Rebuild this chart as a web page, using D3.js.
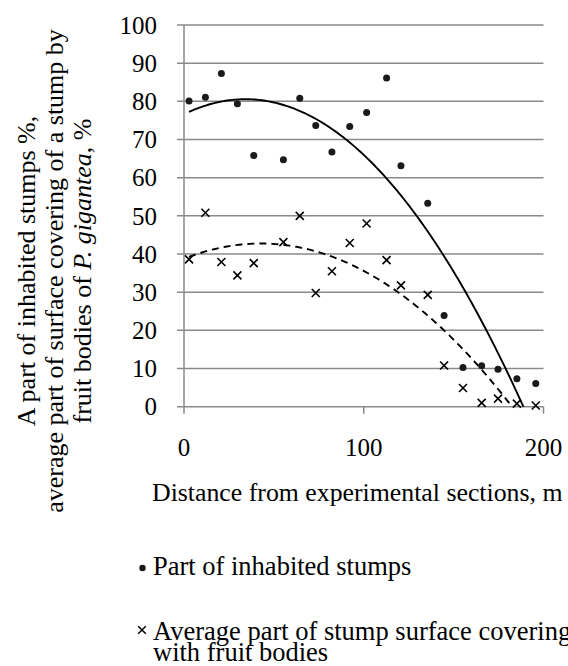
<!DOCTYPE html>
<html>
<head>
<meta charset="utf-8">
<script src="https://cdn.jsdelivr.net/npm/d3@7"></script>
<style>
  html, body { margin: 0; padding: 0; background: #fff; }
  svg { display: block; }
  svg text { font-family: "Liberation Serif", "Times New Roman", serif; fill: #000; }
</style>
</head>
<body>
<div id="chart"></div>
<script>
// Distance from experimental sections, m
const distances = [2.8, 11.9, 20.8, 29.7, 38.8, 55.3, 64.4, 73.3, 82.3, 92.2,
  101.6, 112.7, 120.7, 135.6, 144.7, 155.2, 165.6, 174.7, 185.2, 195.7];
// Part of inhabited stumps, %
const inhabited = [80.1, 81.1, 87.3, 79.4, 65.8, 64.7, 80.8, 73.7, 66.7, 73.4,
  77.1, 86.1, 63.1, 53.3, 23.9, 10.3, 10.7, 9.8, 7.3, 6.1];
// Average part of stump surface covering with fruit bodies, %
const covering = [38.6, 50.8, 37.9, 34.4, 37.6, 43.1, 50.0, 29.8, 35.5, 42.9,
  48.0, 38.4, 31.8, 29.3, 10.8, 4.9, 1.0, 2.1, 0.8, 0.3];

const xTicks = [0, 100, 200];
const yTicks = [0, 10, 20, 30, 40, 50, 60, 70, 80, 90, 100];

const width = 568;
const height = 666;
const margins = { top: 25, right: 25, bottom: 259, left: 184 };
const innerWidth = 543.5 - margins.left;
const innerHeight = 406.7 - margins.top;

// least squares 2nd order polynomial, like the spreadsheet trendline
function polyFit2(xs, ys) {
  const n = xs.length;
  let s1 = 0, s2 = 0, s3 = 0, s4 = 0, t0 = 0, t1 = 0, t2 = 0;
  for (let i = 0; i < n; i++) {
    const x = xs[i], y = ys[i];
    s1 += x; s2 += x * x; s3 += x * x * x; s4 += x * x * x * x;
    t0 += y; t1 += x * y; t2 += x * x * y;
  }
  const m = [[n, s1, s2, t0], [s1, s2, s3, t1], [s2, s3, s4, t2]];
  for (let c = 0; c < 3; c++) {
    for (let r = c + 1; r < 3; r++) {
      const f = m[r][c] / m[c][c];
      for (let k = c; k < 4; k++) m[r][k] -= f * m[c][k];
    }
  }
  const coef = [0, 0, 0];
  for (let r = 2; r >= 0; r--) {
    let s = m[r][3];
    for (let k = r + 1; k < 3; k++) s -= m[r][k] * coef[k];
    coef[r] = s / m[r][r];
  }
  return (x) => coef[0] + coef[1] * x + coef[2] * x * x;
}

const svg = d3.select("#chart")
  .append("svg")
  .attr("width", width)
  .attr("height", height)
  .attr("font-family", "'Liberation Serif', 'Times New Roman', serif");

const mainG = svg.append("g")
  .attr("transform", `translate(${margins.left},${margins.top})`);

const xScale = d3.scaleLinear().domain([0, 200]).range([0, innerWidth]);
const yScale = d3.scaleLinear().domain([0, 100]).range([innerHeight, 0]);

const gridColor = "#8a8a8a";

// Gridlines (with the little outside tick on the left)
mainG.append("g")
  .attr("class", "grid")
  .selectAll("line")
  .data(yTicks)
  .join("line")
  .attr("x1", -7).attr("x2", innerWidth)
  .attr("y1", (d) => yScale(d)).attr("y2", (d) => yScale(d))
  .attr("stroke", gridColor).attr("stroke-width", 1.5);

// Y axis line
mainG.append("line")
  .attr("x1", 0).attr("x2", 0)
  .attr("y1", 0).attr("y2", innerHeight)
  .attr("stroke", gridColor).attr("stroke-width", 1.5);

// X axis ticks
mainG.append("g")
  .selectAll("line")
  .data(xTicks)
  .join("line")
  .attr("x1", (d) => xScale(d)).attr("x2", (d) => xScale(d))
  .attr("y1", innerHeight).attr("y2", innerHeight + 7)
  .attr("stroke", gridColor).attr("stroke-width", 1.5);

// Y tick labels
mainG.append("g")
  .selectAll("text")
  .data(yTicks)
  .join("text")
  .attr("x", -27)
  .attr("y", (d) => yScale(d))
  .attr("dy", "0.35em")
  .attr("text-anchor", "end")
  .attr("font-size", "25px")
  .text((d) => d);

// X tick labels
mainG.append("g")
  .selectAll("text")
  .data(xTicks)
  .join("text")
  .attr("x", (d) => xScale(d))
  .attr("y", innerHeight + 49)
  .attr("text-anchor", "middle")
  .attr("font-size", "25px")
  .text((d) => d);

// Trend lines, clipped to the plot area
svg.append("defs").append("clipPath")
  .attr("id", "plot-clip")
  .append("rect")
  .attr("x", 0).attr("y", -5)
  .attr("width", innerWidth).attr("height", innerHeight + 5);

const xMin = d3.min(distances);
const xMax = d3.max(distances);
const samples = d3.range(0, 201).map((i) => xMin + (xMax - xMin) * i / 200);

const trends = [
  { values: inhabited, dash: null },
  { values: covering, dash: "7,5" },
];

const line = d3.line()
  .x((d) => xScale(d[0]))
  .y((d) => yScale(d[1]));

mainG.append("g")
  .attr("clip-path", "url(#plot-clip)")
  .selectAll("path")
  .data(trends)
  .join("path")
  .attr("d", (t) => {
    const f = polyFit2(distances, t.values);
    return line(samples.map((x) => [x, f(x)]));
  })
  .attr("fill", "none")
  .attr("stroke", "#000")
  .attr("stroke-width", 1.9)
  .attr("stroke-dasharray", (t) => t.dash);

// Markers
const crossPath = (s) => `M${-s},${-s}L${s},${s}M${-s},${s}L${s},${-s}`;

mainG.append("g")
  .selectAll("path")
  .data(covering)
  .join("path")
  .attr("transform", (d, i) => `translate(${xScale(distances[i])},${yScale(d)})`)
  .attr("d", crossPath(4))
  .attr("stroke", "#000")
  .attr("stroke-width", 1.6)
  .attr("fill", "none");

mainG.append("g")
  .selectAll("circle")
  .data(inhabited)
  .join("circle")
  .attr("cx", (d, i) => xScale(distances[i]))
  .attr("cy", (d) => yScale(d))
  .attr("r", 3.5)
  .attr("fill", "#1a1a1a");

// Axis titles
svg.append("text")
  .attr("x", 152)
  .attr("y", 501)
  .attr("font-size", "25.8px")
  .text("Distance from experimental sections, m");

const yTitle = svg.append("g")
  .attr("transform", "translate(0,271) rotate(-90)")
  .attr("font-size", "26px")
  .attr("text-anchor", "middle");

yTitle.append("text").attr("x", 0).attr("y", 35)
  .text("A part of inhabited stumps %,");
yTitle.append("text").attr("x", 0).attr("y", 63)
  .text("average part of surface covering of a stump by");
const third = yTitle.append("text").attr("x", 0).attr("y", 91);
third.append("tspan").text("fruit bodies of ");
third.append("tspan").attr("font-style", "italic").text("P. gigantea");
third.append("tspan").text(", %");

// Legend
const legendG = svg.append("g").attr("class", "legend");

legendG.append("circle")
  .attr("cx", 142.5).attr("cy", 568)
  .attr("r", 3.2)
  .attr("fill", "#1a1a1a");
legendG.append("text")
  .attr("x", 153).attr("y", 575)
  .attr("font-size", "26.5px")
  .text("Part of inhabited stumps");

legendG.append("path")
  .attr("transform", "translate(142,630)")
  .attr("d", crossPath(3.8))
  .attr("stroke", "#000")
  .attr("stroke-width", 1.5)
  .attr("fill", "none");
legendG.append("text")
  .attr("x", 153).attr("y", 640)
  .attr("font-size", "26.5px")
  .text("Average part of stump surface covering");
legendG.append("text")
  .attr("x", 153).attr("y", 661)
  .attr("font-size", "26.5px")
  .text("with fruit bodies");
</script>
</body>
</html>
